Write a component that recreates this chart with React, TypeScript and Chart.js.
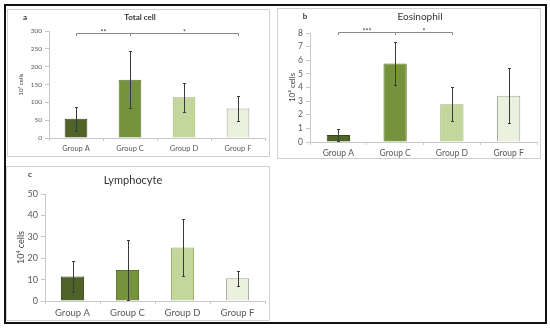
import React, { useEffect, useRef } from 'react';
import { Chart, registerables } from 'chart.js';

Chart.register(...registerables);

const FONT = 'Lato, "Open Sans", sans-serif';

const categories = ['Group A', 'Group C', 'Group D', 'Group F'];
const barColors = ['#4F6228', '#76923C', '#C3D69B', '#EBF1DE'];
const barBorders = ['#3b4a1e', '#5c742e', '#98ad6c', '#a3a89a'];

const totalCellMeans = [54, 163, 114, 83];
const totalCellErrors = [33, 80, 40, 36];
const totalCellTicks = { max: 300, step: 50 };
const totalCellBrackets = [
  { from: 0, to: 1, y: 295, label: '**' },
  { from: 1, to: 3, y: 295, label: '*' },
];

const eosinophilMeans = [0.51, 5.77, 2.77, 3.4];
const eosinophilErrors = [0.42, 1.57, 1.25, 2.0];
const eosinophilTicks = { max: 8, step: 1 };
const eosinophilBrackets = [
  { from: 0, to: 1, y: 8.05, label: '***' },
  { from: 1, to: 2, y: 8.05, label: '*' },
];

const lymphocyteMeans = [11.5, 14.5, 25, 10.6];
const lymphocyteErrors = [7.3, 14, 13.5, 3.4];
const lymphocyteTicks = { max: 50, step: 10 };
const lymphocyteBrackets: any[] = [];

type PanelProps = {
  box: { left: number; top: number; width: number; height: number };
  means: number[];
  errors: number[];
  ticks: { max: number; step: number };
  brackets: { from: number; to: number; y: number; label: string }[];
  pad: { top: number; right: number };
  yWidth: number;
  xHeight: number;
  yTickSize: number;
  xTickSize: number;
  yTitleSize: number;
  yTitlePad: number;
  barPct: number;
};

function Panel(p: PanelProps) {
  const ref = useRef<HTMLCanvasElement | null>(null);
  useEffect(() => {
    if (!ref.current) return;
    const errPlugin = {
      id: 'errAndBrackets',
      afterDatasetsDraw(chart: any) {
        const meta = chart.getDatasetMeta(0);
        const ys = chart.scales.y;
        const ctx = chart.ctx;
        ctx.save();
        ctx.strokeStyle = '#3a3a3a';
        ctx.lineWidth = 1;
        meta.data.forEach((bar: any, i: number) => {
          const x = Math.round(bar.x) + 0.5;
          const yT = Math.round(ys.getPixelForValue(p.means[i] + p.errors[i])) + 0.5;
          const yB = Math.round(ys.getPixelForValue(p.means[i] - p.errors[i])) + 0.5;
          ctx.beginPath();
          ctx.moveTo(x, yT);
          ctx.lineTo(x, yB);
          ctx.moveTo(x - 1.5, yT);
          ctx.lineTo(x + 1.5, yT);
          ctx.moveTo(x - 1.5, yB);
          ctx.lineTo(x + 1.5, yB);
          ctx.stroke();
        });
        ctx.strokeStyle = '#8a8a8a';
        ctx.fillStyle = '#404040';
        ctx.font = `7px ${FONT}`;
        ctx.textAlign = 'center';
        ctx.textBaseline = 'alphabetic';
        p.brackets.forEach((b) => {
          const x1 = Math.round(meta.data[b.from].x) + 0.5;
          const x2 = Math.round(meta.data[b.to].x) + 0.5;
          const y = Math.round(ys.getPixelForValue(b.y)) + 0.5;
          ctx.beginPath();
          ctx.moveTo(x1, y + 2.5);
          ctx.lineTo(x1, y);
          ctx.lineTo(x2, y);
          ctx.lineTo(x2, y + 2.5);
          ctx.stroke();
          ctx.fillText(b.label, (x1 + x2) / 2, y + 1.5);
        });
        ctx.restore();
      },
    };
    const chart = new Chart(ref.current, {
      type: 'bar',
      data: {
        labels: categories,
        datasets: [
          {
            data: p.means,
            backgroundColor: barColors,
            borderColor: barBorders,
            borderWidth: 1,
            barPercentage: 1,
            categoryPercentage: p.barPct,
          },
        ],
      },
      options: {
        animation: false,
        responsive: false,
        maintainAspectRatio: false,
        layout: { padding: { top: p.pad.top, right: p.pad.right, left: 0, bottom: 0 } },
        plugins: { legend: { display: false }, tooltip: { enabled: false }, title: { display: false } },
        scales: {
          x: {
            afterFit: (s: any) => {
              s.height = p.xHeight;
            },
            grid: { display: true, drawOnChartArea: false, tickLength: 3, color: '#c8c8c8' },
            border: { color: '#c8c8c8' },
            ticks: { color: '#595959', font: { family: FONT, size: p.xTickSize }, padding: 3 },
          },
          y: {
            min: 0,
            max: p.ticks.max,
            afterFit: (s: any) => {
              s.width = p.yWidth;
            },
            grid: { display: true, drawOnChartArea: false, tickLength: 4, color: '#c8c8c8' },
            border: { color: '#c8c8c8' },
            ticks: { stepSize: p.ticks.step, color: '#595959', font: { family: FONT, size: p.yTickSize }, padding: 3 },
            title: {
              display: true,
              text: '10⁴ cells',
              color: '#404040',
              font: { family: FONT, size: p.yTitleSize },
              padding: { top: p.yTitlePad, bottom: 0 },
            },
          },
        },
      },
      plugins: [errPlugin],
    });
    return () => chart.destroy();
  }, []);
  const w = p.box.width - 2;
  const h = p.box.height - 2;
  return (
    <div
      style={{
        position: 'absolute',
        left: p.box.left,
        top: p.box.top,
        width: p.box.width,
        height: p.box.height,
        boxSizing: 'border-box',
        border: '1px solid #d0d0d0',
        background: '#fff',
      }}
    >
      <canvas ref={ref} width={w} height={h} style={{ display: 'block', width: w, height: h }} />
    </div>
  );
}

function Label(props: { x: number; y: number; size: number; weight?: number; text: string }) {
  return (
    <div
      style={{
        position: 'absolute',
        left: props.x,
        top: props.y,
        transform: 'translate(-50%, -50%)',
        fontFamily: FONT,
        fontSize: props.size,
        fontWeight: props.weight || 400,
        color: '#333',
        whiteSpace: 'nowrap',
        lineHeight: 1,
      }}
    >
      {props.text}
    </div>
  );
}

export default function App() {
  return (
    <div style={{ position: 'fixed', left: 0, top: 0, width: 550, height: 329, background: '#fff' }}>
      <div
        style={{
          position: 'absolute',
          left: 4,
          top: 4,
          width: 543,
          height: 320,
          boxSizing: 'border-box',
          border: '2px solid #111',
        }}
      />
      <Panel
        box={{ left: 7, top: 9, width: 263, height: 148 }}
        means={totalCellMeans}
        errors={totalCellErrors}
        ticks={totalCellTicks}
        brackets={totalCellBrackets}
        pad={{ top: 21, right: 4 }}
        yWidth={41}
        xHeight={18}
        yTickSize={6.5}
        xTickSize={7.5}
        yTitleSize={6}
        yTitlePad={9}
        barPct={0.42}
      />
      <Panel
        box={{ left: 277, top: 8, width: 264, height: 151 }}
        means={eosinophilMeans}
        errors={eosinophilErrors}
        ticks={eosinophilTicks}
        brackets={eosinophilBrackets}
        pad={{ top: 24, right: 3 }}
        yWidth={32}
        xHeight={16}
        yTickSize={8.5}
        xTickSize={8.5}
        yTitleSize={8}
        yTitlePad={10}
        barPct={0.41}
      />
      <Panel
        box={{ left: 6, top: 166, width: 264, height: 155 }}
        means={lymphocyteMeans}
        errors={lymphocyteErrors}
        ticks={lymphocyteTicks}
        brackets={lymphocyteBrackets}
        pad={{ top: 27, right: 4 }}
        yWidth={38}
        xHeight={19}
        yTickSize={9}
        xTickSize={9.5}
        yTitleSize={9}
        yTitlePad={8.5}
        barPct={0.42}
      />
      <Label x={25} y={17} size={8} weight={700} text="a" />
      <Label x={140} y={17} size={8} weight={700} text="Total cell" />
      <Label x={305} y={16} size={8} weight={700} text="b" />
      <Label x={420} y={16} size={10} text="Eosinophil" />
      <Label x={30} y={174} size={8} weight={700} text="c" />
      <Label x={133} y={179} size={11} text="Lymphocyte" />
    </div>
  );
}
